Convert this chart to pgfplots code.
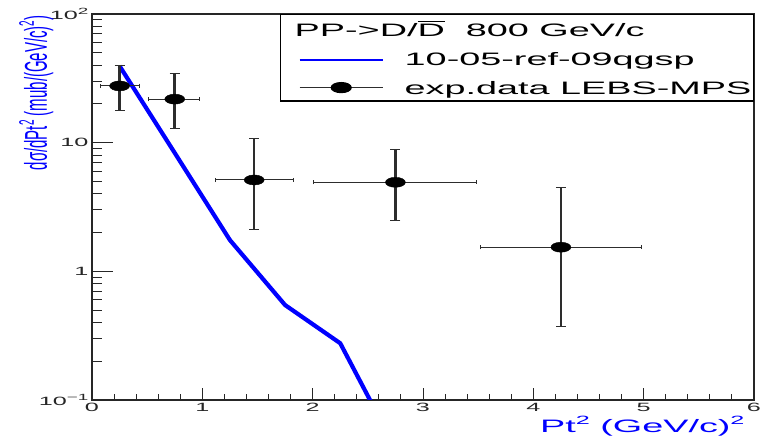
\documentclass[border=0pt]{standalone}
\usepackage{pgfplots}
\pgfplotsset{compat=1.18}
\usepackage{fontspec}
\setmainfont{Liberation Sans}
\newfontfamily\tf[FakeStretch=2.1]{Liberation Sans}
\definecolor{ebar}{RGB}{45,45,45}
\newcommand\sups[2]{\raisebox{0.42em}{\fontsize{#1}{#1}\selectfont #2}}
\newcommand\Dbar{\leavevmode\setbox0\hbox{D}\rlap{\raisebox{0.8em}{\rule{\wd0}{1.1pt}}}\box0}

\pgfplotstableread{
x     y     exm   exp   eym   eyp
0.25  27.6  0.177 0.176 9.7   12.5
0.75  21.8  0.24  0.22  9.0   12.8
1.47  5.13  0.35  0.36  3.0   5.6
2.75  4.92  0.745 0.737 2.45  4.0
4.25  1.54  0.733 0.732 1.17  2.93
}\expdata

\pgfplotstableread{
x     y
0.25  39.4
0.75  8.32
1.25  1.75
1.75  0.547
2.25  0.276
2.75  0.042
}\simdata

\begin{document}
\begin{tikzpicture}
\begin{axis}[
  at={(0,0)}, anchor=south west,
  scale only axis, width=662pt, height=386pt,
  xmin=0, xmax=6, ymin=0.1, ymax=100, ymode=log,
  axis line style={line width=1.2pt, black!85},
  tick align=inside, xtick pos=bottom, ytick pos=left,
  xtick={0,1,2,3,4,5,6}, xticklabels={0,1,2,3,4,5,6}, minor x tick num=4,
  ytick={0.1,1,10,100},
  yticklabels={10\sups{9}{−1},1,10,10\sups{9}{2}},
  minor ytick={0.2,0.3,0.4,0.5,0.6,0.7,0.8,0.9,2,3,4,5,6,7,8,9,20,30,40,50,60,70,80,90},
  tick style={line width=1pt, black!85},
  xtick style={/pgfplots/major tick length=12pt, /pgfplots/minor tick length=6pt},
  ytick style={/pgfplots/major tick length=21pt, /pgfplots/minor tick length=10pt},
  xticklabel style={font=\tf\fontsize{12}{12}\selectfont, black!85},
  yticklabel style={font=\tf\fontsize{12}{12}\selectfont, black!85},
  xlabel={Pt\sups{12}{2} (GeV/c)\sups{12}{2}},
  xlabel style={at={(rel axis cs:0.991,-0.083)}, anchor=base east,
    font=\tf\fontsize{18}{18}\selectfont, text=blue},
  ylabel={\scalebox{1}[2.1]{\fontsize{15}{15}\selectfont dσ/dPt\sups{10}{2} (mub/(GeV/c)\sups{10}{2})}},
  ylabel style={at={(rel axis cs:-0.068,1.005)}, anchor=base east, text=blue},
  legend style={at={(rel axis cs:1,1)}, anchor=north east, draw=black, line width=1.2pt,
    inner xsep=2pt, inner ysep=3pt, row sep=12pt, column sep=21pt,
    font=\tf\fontsize{18}{18}\selectfont,
    nodes={inner sep=0pt, text height=13pt, text depth=4pt},
    cells={anchor=base west}},
]
\addlegendimage{empty legend}
\addlegendentry[text height=18.5pt]{\hspace*{-110pt}PP->D/\Dbar\ \ 800 GeV/c}

\addplot[blue, line width=4.2pt,
  legend image code/.code={\path (0pt,0pt); \draw[blue, line width=2pt] (15pt,5.5pt) -- (98pt,5.5pt);}]
  table[x=x, y=y] {\simdata};
\addlegendentry{10-05-ref-09qgsp}

\addplot[only marks, mark=none, color=ebar, forget plot,
  error bars/.cd, x dir=both, x explicit,
  error bar style={line width=1pt, color=ebar},
  error mark options={rotate=90, line width=1pt, mark size=2.2pt, color=ebar}]
  table[x=x, y=y, x error minus=exm, x error plus=exp] {\expdata};

\addplot[only marks, mark=none, color=ebar, forget plot,
  error bars/.cd, y dir=both, y explicit,
  error bar style={line width=2.6pt, color=ebar},
  error mark options={rotate=90, line width=1pt, mark size=5pt, color=ebar}]
  table[x=x, y=y, y error minus=eym, y error plus=eyp] {\expdata};

\addplot[only marks, mark=*, mark size=5pt, mark options={xscale=2, fill=black, draw=black},
  legend image code/.code={\path (0pt,0pt);
    \draw[ebar, line width=1pt] (15pt,6.5pt) -- (98pt,6.5pt);
    \fill[black] (56.5pt,6.5pt) ellipse [x radius=10pt, y radius=5pt];}]
  table[x=x, y=y] {\expdata};
\addlegendentry{exp.data LEBS-MPS}
\end{axis}
\pgfresetboundingbox
\path (-92pt,-38pt) rectangle (668pt,400pt);
\end{tikzpicture}
\end{document}
